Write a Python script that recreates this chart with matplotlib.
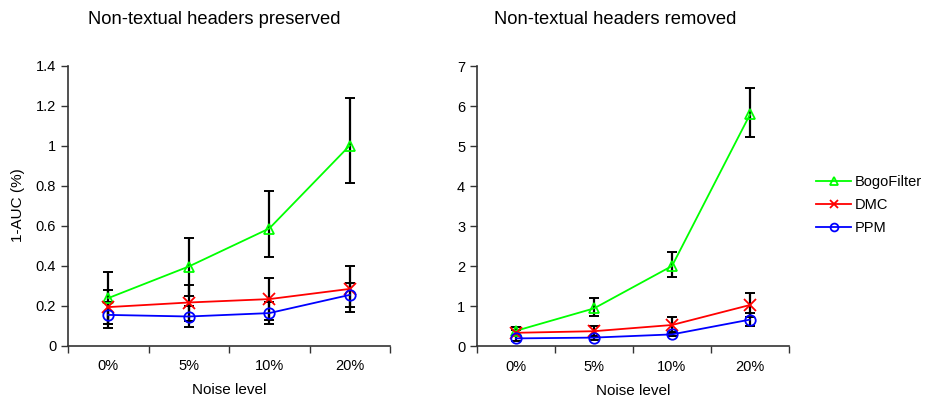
import matplotlib
matplotlib.use("Agg")
import matplotlib.pyplot as plt
import numpy as np

plt.rcParams['font.family'] = ['Liberation Sans', 'DejaVu Sans']

categories = ["0%", "5%", "10%", "20%"]
series_names = ["BogoFilter", "DMC", "PPM"]

# Left panel: non-textual headers preserved
left_bogo = [0.237, 0.395, 0.585, 1.0]
left_bogo_lo = [0.13, 0.145, 0.14, 0.188]
left_bogo_hi = [0.13, 0.145, 0.19, 0.237]
left_dmc = [0.192, 0.215, 0.232, 0.283]
left_dmc_err = [0.086, 0.09, 0.105, 0.115]
left_ppm = [0.153, 0.145, 0.162, 0.253]
left_ppm_err = [0.066, 0.053, 0.055, 0.06]

# Right panel: non-textual headers removed
right_bogo = [0.38, 0.94, 2.0, 5.79]
right_bogo_lo = [0.1, 0.18, 0.28, 0.56]
right_bogo_hi = [0.1, 0.25, 0.36, 0.65]
right_dmc = [0.33, 0.37, 0.525, 1.025]
right_dmc_err = [0.08, 0.14, 0.19, 0.3]
right_ppm = [0.19, 0.21, 0.29, 0.66]
right_ppm_err = [0.07, 0.05, 0.05, 0.17]

titles = ["Non-textual headers preserved", "Non-textual headers removed"]

fig = plt.figure(figsize=(9.25, 4.0), dpi=100)
W, H = 925, 400

def make_ax(x0, x1, y0, y1):
    return fig.add_axes([x0 / W, 1 - y1 / H, (x1 - x0) / W, (y1 - y0) / H])

ax1 = make_ax(68, 390, 65.5, 345.5)
ax2 = make_ax(477, 789, 66, 346)

colors = ["#00FF00", "#FF0000", "#0000FF"]
markers = ["^", "x", "o"]

def draw(ax, data, errs, ymax, ystep):
    x = np.arange(len(categories))
    handles = []
    for (vals, err), c, m, name in zip(zip(data, errs), colors, markers, series_names):
        ax.errorbar(x, vals, yerr=err, fmt='none', ecolor='black', elinewidth=1.6,
                    capsize=3.5, capthick=1.4, zorder=2)
        h, = ax.plot(x, vals, color=c, marker=m, markersize=7.5 if m != 'x' else 8.5,
                     markerfacecolor='none', markeredgecolor=c, markeredgewidth=1.3,
                     linewidth=1.3, label=name, zorder=3)
        handles.append(h)
    ax.set_xlim(-0.5, len(categories) - 0.5)
    ax.set_ylim(0, ymax)
    ax.set_yticks(np.arange(0, ymax + ystep / 2, ystep))
    ax.set_xticks(np.arange(-0.5, len(categories), 1.0))
    ax.set_xticklabels([])
    ax.set_xticks(x, minor=True)
    ax.set_xticklabels(categories, minor=True)
    ax.tick_params(axis='x', which='minor', length=0, pad=10, labelsize=10.5)
    ax.tick_params(axis='x', which='major', length=5, width=1, color='#333333')
    ax.tick_params(axis='y', length=5, width=1, labelsize=10.5, color='#333333')
    for s in ['top', 'right']:
        ax.spines[s].set_visible(False)
    for s in ['left', 'bottom']:
        ax.spines[s].set_color('#333333')
        ax.spines[s].set_linewidth(1.2)
    ax.set_xlabel("Noise level", fontsize=11, labelpad=7)
    return handles

h = draw(ax1, [left_bogo, left_dmc, left_ppm],
         [[left_bogo_lo, left_bogo_hi], left_dmc_err, left_ppm_err], 1.4, 0.2)
ax1.set_yticklabels([("%g" % v) for v in np.arange(0, 1.41, 0.2).round(1)])
ax1.set_ylabel("1-AUC (%)", fontsize=11, labelpad=8)
draw(ax2, [right_bogo, right_dmc, right_ppm],
     [[right_bogo_lo, right_bogo_hi], right_dmc_err, right_ppm_err], 7, 1)

fig.text(214 / W, 1 - 20 / H, titles[0], ha='center', va='center', fontsize=13.2)
fig.text(615 / W, 1 - 20 / H, titles[1], ha='center', va='center', fontsize=13.2)

fig.legend(handles=h, labels=series_names, loc='center left',
           bbox_to_anchor=(803 / W, 1 - 205 / H), frameon=False, fontsize=10.5,
           handlelength=2.4, handletextpad=0.25, labelspacing=0.6, markerscale=0.75)

fig.savefig("out.png", dpi=100)
